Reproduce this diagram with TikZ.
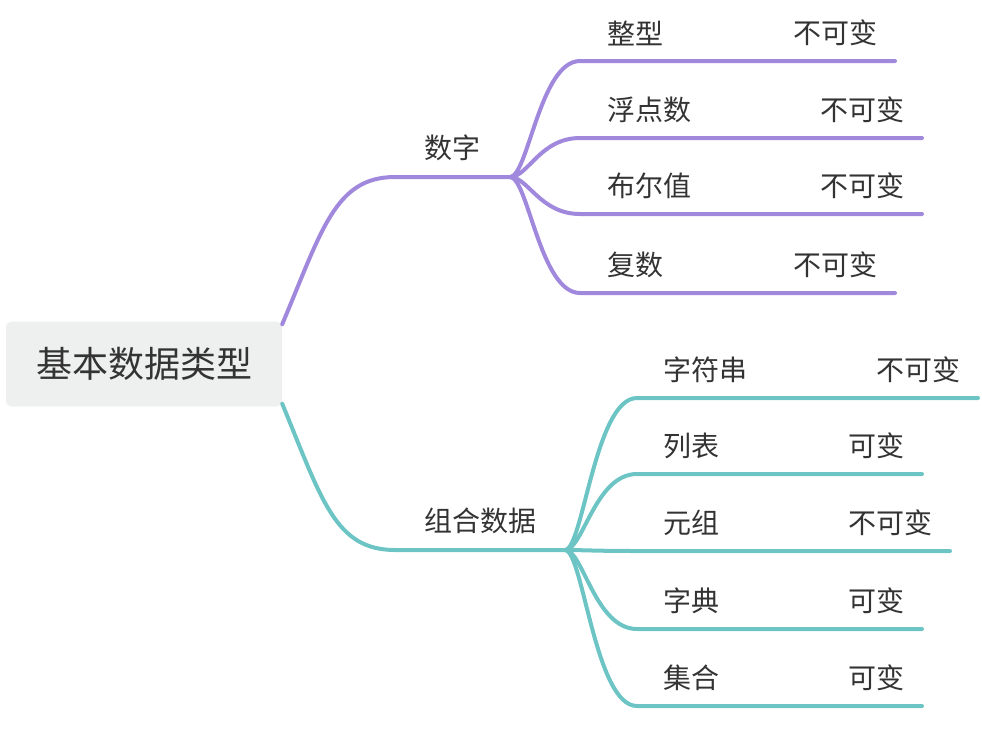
\documentclass[tikz,border=0pt]{standalone}
\usepackage{fontspec}
\setmainfont{Noto Sans CJK SC}
\usetikzlibrary{positioning}
\definecolor{numcolor}{HTML}{A088DD}
\definecolor{combcolor}{HTML}{6CC4C4}
\definecolor{rootfill}{HTML}{EEF0EF}
\definecolor{inkgray}{HTML}{333333}
\tikzset{
  branch/.style={line width=4pt, line cap=round},
  rootbox/.style={fill=rootfill, rounded corners=6pt, minimum width=276pt, minimum height=85pt,
    inner sep=0pt, text=inkgray, font=\fontsize{36}{36}\selectfont},
  leaf/.style={inner sep=0pt, anchor=west, text=inkgray, font=\fontsize{28}{28}\selectfont},
  mutability/.style={inner sep=0pt, anchor=east, text=inkgray, font=\fontsize{28}{28}\selectfont},
}
\begin{document}
\begin{tikzpicture}[x=1pt,y=-1pt]
  \useasboundingbox (0,0) rectangle (982,750);
  \node[rootbox] (root) at (144,364) {基本数据类型};   % root of the map
  \coordinate (numhub) at (510,177);    % fan point of the number branch
  \coordinate (combhub) at (565,550);   % fan point of the compound branch
  % number branch
  \draw[branch,numcolor] ([yshift=-3pt]root.north east) .. controls (322,230) and (335,177) .. (395,177) -- (numhub);
  \node[leaf] (num) at (424,148) {数字};
  \foreach \y/\e/\txt/\mut/\name in {61/895/整型/不可变/int, 138/922/浮点数/不可变/float,
      214/922/布尔值/不可变/bool, 293/895/复数/不可变/complex} {
    \coordinate (\name-end) at (\e,\y);
    \draw[branch,numcolor] (numhub) .. controls (528,177) and (540,\y) .. (580,\y) -- (\name-end);
    \node[leaf] (\name) at (607,{\y-28}) {\txt};
    \node[mutability] (\name-mut) at ({\e-17},{\y-28}) {\mut};
  }
  % compound branch
  \draw[branch,combcolor] ([yshift=3pt]root.south east) .. controls (322,500) and (335,550) .. (395,550) -- (combhub);
  \node[leaf] (comb) at (424,521) {组合数据};
  \foreach \y/\e/\txt/\mut/\name in {398/978/字符串/不可变/str, 474/922/列表/可变/list,
      551/950/元组/不可变/tuple, 629/922/字典/可变/dict, 706/922/集合/可变/set} {
    \coordinate (\name-end) at (\e,\y);
    \draw[branch,combcolor] (combhub) .. controls (583,550) and (595,\y) .. (637,\y) -- (\name-end);
    \node[leaf] (\name) at (663,{\y-28}) {\txt};
    \node[mutability] (\name-mut) at ({\e-17},{\y-28}) {\mut};
  }
\end{tikzpicture}
\end{document}
